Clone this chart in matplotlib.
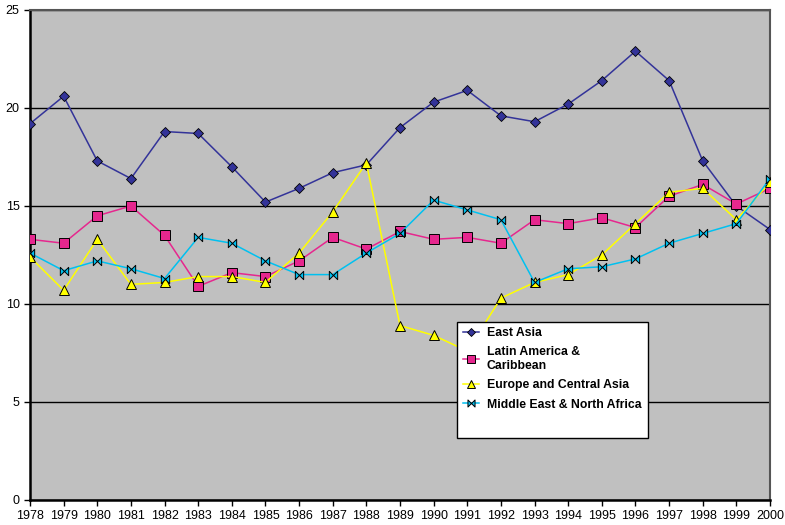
import numpy as np
import matplotlib
matplotlib.use('Agg')
from matplotlib import pyplot as plt
from matplotlib.path import Path
from matplotlib.patches import Rectangle

plt.rcParams['font.family'] = ['Liberation Sans', 'DejaVu Sans']

years = list(range(1978, 2001))

east_asia = [19.2, 20.6, 17.3, 16.4, 18.8, 18.7, 17.0, 15.2, 15.9, 16.7, 17.1, 19.0,
             20.3, 20.9, 19.6, 19.3, 20.2, 21.4, 22.9, 21.4, 17.3, 15.0, 13.8]
latin_america = [13.3, 13.1, 14.5, 15.0, 13.5, 10.9, 11.6, 11.4, 12.2, 13.4, 12.8, 13.7,
                 13.3, 13.4, 13.1, 14.3, 14.1, 14.4, 13.9, 15.5, 16.1, 15.1, 15.9]
europe_ca = [12.4, 10.7, 13.3, 11.0, 11.1, 11.4, 11.4, 11.1, 12.6, 14.7, 17.2, 8.9,
             8.4, 7.6, 10.3, 11.1, 11.5, 12.5, 14.1, 15.7, 15.9, 14.3, 16.2]
mena = [12.6, 11.7, 12.2, 11.8, 11.3, 13.4, 13.1, 12.2, 11.5, 11.5, 12.6, 13.6,
        15.3, 14.8, 14.3, 11.1, 11.8, 11.9, 12.3, 13.1, 13.6, 14.1, 16.4]

labels = ['East Asia', 'Latin America &\nCaribbean', 'Europe and Central Asia',
          'Middle East & North Africa']

# bowtie marker like the old Excel one
bowtie = Path([(-1, 1), (1, -1), (1, 1), (-1, -1), (-1, 1)],
              [Path.MOVETO, Path.LINETO, Path.LINETO, Path.LINETO, Path.CLOSEPOLY])

fig = plt.figure(figsize=(7.85, 5.25), dpi=100)
ax = fig.add_axes([30/785, 25/525, 740/785, 490/525])
ax.set_facecolor('#c0c0c0')

ax.plot(years, east_asia, color='#333399', lw=1.1, marker='D', ms=5,
        mfc='#333399', mec='black', mew=0.6, label=labels[0], zorder=3)
ax.plot(years, latin_america, color='#e6278e', lw=1.1, marker='s', ms=6.5,
        mfc='#e6278e', mec='black', mew=0.7, label=labels[1], zorder=3)
ax.plot(years, europe_ca, color='#ffff00', lw=1.1, marker='^', ms=7,
        mfc='#ffff00', mec='black', mew=0.7, label=labels[2], zorder=3)
ax.plot(years, mena, color='#00c0f0', lw=1.1, marker=bowtie, ms=6,
        mfc='#00c0f0', mec='black', mew=0.7, label=labels[3], zorder=3)

ax.set_xlim(1978, 2000)
ax.set_ylim(0, 25)
ax.set_xticks(years)
ax.set_yticks([0, 5, 10, 15, 20, 25])
ax.tick_params(labelsize=9, length=4, width=1, direction='out')
ax.yaxis.grid(True, color='black', lw=1)
ax.set_axisbelow(True)

for s in ['left', 'bottom']:
    ax.spines[s].set_linewidth(1.8)
    ax.spines[s].set_color('black')
for s in ['top', 'right']:
    ax.spines[s].set_linewidth(1.5)
    ax.spines[s].set_color('#555555')

# legend box is taller than the entries
ax.add_patch(Rectangle((457/785, 1 - 438/525), 191/785, 116/525,
                       transform=fig.transFigure, facecolor='white',
                       edgecolor='black', lw=1, zorder=4))
leg = ax.legend(loc='upper left', bbox_to_anchor=(458/785, 1 - 322/525),
                bbox_transform=fig.transFigure, frameon=False,
                prop={'weight': 'bold', 'size': 8.8}, handlelength=1.35,
                handletextpad=0.6, labelspacing=0.6, borderaxespad=0,
                markerscale=0.85)
leg.set_zorder(5)

plt.savefig('out.png', dpi=100)
